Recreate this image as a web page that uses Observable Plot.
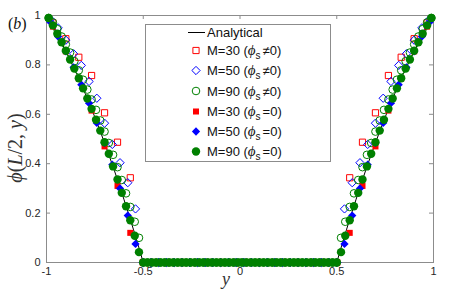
<!DOCTYPE html>
<html><head><meta charset="utf-8">
<script src="https://cdn.jsdelivr.net/npm/d3@7"></script>
<script src="https://cdn.jsdelivr.net/npm/@observablehq/plot@0.6"></script>
<style>body{margin:0;background:#fff} svg{display:block}</style>
</head><body><div id="chart"></div><script>
// ---------- data ----------
const xTicks = [-1, -0.5, 0, 0.5, 1];
const yTicks = [0, 0.2, 0.4, 0.6, 0.8, 1];

// Analytical curve
const yA = [-1,-0.975,-0.95,-0.925,-0.9,-0.875,-0.85,-0.825,-0.8,-0.775,-0.75,-0.725,-0.7,-0.675,-0.65,-0.625,-0.6,-0.575,-0.55,-0.525,-0.5,
            0.5,0.525,0.55,0.575,0.6,0.625,0.65,0.675,0.7,0.725,0.75,0.775,0.8,0.825,0.85,0.875,0.9,0.925,0.95,0.975,1];
const phiA = [1,0.967,0.931,0.895,0.856,0.816,0.774,0.73,0.684,0.637,0.588,0.537,0.484,0.43,0.374,0.316,0.256,0.195,0.132,0.067,0,
              0,0.067,0.132,0.195,0.256,0.316,0.374,0.43,0.484,0.537,0.588,0.637,0.684,0.73,0.774,0.816,0.856,0.895,0.931,0.967,1];

// M = 30
const yM30 = [-0.967,-0.9,-0.833,-0.767,-0.7,-0.633,-0.567,-0.5,-0.433,-0.367,-0.3,-0.233,-0.167,-0.1,-0.033,
              0.033,0.1,0.167,0.233,0.3,0.367,0.433,0.5,0.567,0.633,0.7,0.767,0.833,0.9,0.967];
const phiM30open = [0.97,0.906,0.831,0.757,0.606,0.487,0.343,0,0,0,0,0,0,0,0,
                    0,0,0,0,0,0,0,0,0.343,0.487,0.606,0.757,0.831,0.906,0.97];
const phiM30fill = [0.955,0.855,0.745,0.615,0.47,0.31,0.12,0,0,0,0,0,0,0,0,
                    0,0,0,0,0,0,0,0,0.12,0.31,0.47,0.615,0.745,0.855,0.955];

// M = 50
const yM50 = [-0.98,-0.94,-0.9,-0.86,-0.82,-0.78,-0.74,-0.7,-0.66,-0.62,-0.58,-0.54,
              -0.5,-0.46,-0.42,-0.38,-0.34,-0.3,-0.26,-0.22,-0.18,-0.14,-0.1,-0.06,-0.02,
              0.02,0.06,0.1,0.14,0.18,0.22,0.26,0.3,0.34,0.38,0.42,0.46,0.5,
              0.54,0.58,0.62,0.66,0.7,0.74,0.78,0.82,0.86,0.9,0.94,0.98];
const phiM50open = [0.985,0.95,0.9,0.845,0.798,0.733,0.665,0.564,0.478,0.404,0.323,0.217,
                    0,0,0,0,0,0,0,0,0,0,0,0,0,
                    0,0,0,0,0,0,0,0,0,0,0,0,0,
                    0.217,0.323,0.404,0.478,0.564,0.665,0.733,0.798,0.845,0.9,0.95,0.985];
const phiM50fill = [0.973,0.915,0.855,0.79,0.72,0.645,0.565,0.484,0.396,0.3,0.19,0.075,
                    0,0,0,0,0,0,0,0,0,0,0,0,0,
                    0,0,0,0,0,0,0,0,0,0,0,0,0,
                    0.075,0.19,0.3,0.396,0.484,0.565,0.645,0.72,0.79,0.855,0.915,0.973];

// M = 90
const yM90 = [-0.989,-0.967,-0.944,-0.922,-0.9,-0.878,-0.856,-0.833,-0.811,-0.789,-0.767,-0.744,-0.722,-0.7,-0.678,-0.656,-0.633,-0.611,-0.589,-0.567,-0.544,-0.522,
              -0.5,-0.478,-0.456,-0.433,-0.411,-0.389,-0.367,-0.344,-0.322,-0.3,-0.278,-0.256,-0.233,-0.211,-0.189,-0.167,-0.144,-0.122,-0.1,-0.078,-0.056,-0.033,-0.011,
              0.011,0.033,0.056,0.078,0.1,0.122,0.144,0.167,0.189,0.211,0.233,0.256,0.278,0.3,0.322,0.344,0.367,0.389,0.411,0.433,0.456,0.478,0.5,
              0.522,0.544,0.567,0.589,0.611,0.633,0.656,0.678,0.7,0.722,0.744,0.767,0.789,0.811,0.833,0.856,0.878,0.9,0.922,0.944,0.967,0.989];
const phiM90open = [0.99,0.972,0.945,0.915,0.883,0.85,0.815,0.778,0.74,0.7,0.66,0.618,0.575,0.53,0.484,0.436,0.386,0.334,0.28,0.225,0.165,0.1,
                    0,0,0,0,0,0,0,0,0,0,0,0,0,0,0,0,0,0,0,0,0,0,0,
                    0,0,0,0,0,0,0,0,0,0,0,0,0,0,0,0,0,0,0,0,0,0,0,
                    0.1,0.165,0.225,0.28,0.334,0.386,0.436,0.484,0.53,0.575,0.618,0.66,0.7,0.74,0.778,0.815,0.85,0.883,0.915,0.945,0.972,0.99];
const phiM90fill = [0.99,0.96,0.926,0.892,0.857,0.822,0.785,0.746,0.705,0.664,0.622,0.578,0.534,0.487,0.44,0.389,0.336,0.282,0.228,0.171,0.108,0.042,
                    0,0,0,0,0,0,0,0,0,0,0,0,0,0,0,0,0,0,0,0,0,0,0,
                    0,0,0,0,0,0,0,0,0,0,0,0,0,0,0,0,0,0,0,0,0,0,0,
                    0.042,0.108,0.171,0.228,0.282,0.336,0.389,0.44,0.487,0.534,0.578,0.622,0.664,0.705,0.746,0.785,0.822,0.857,0.892,0.926,0.96,0.99];

const legendLabels = ["Analytical", "M=30", "M=50", "M=90", "M=30", "M=50", "M=90"];
const legendConds = [null, "\u22600)", "\u22600)", "\u22600)", "=0)", "=0)", "=0)"];

// ---------- build ----------
const zip = (xs, ys) => xs.map((x, i) => ({x, y: ys[i]}));
const diamond = {draw(ctx, size) { const r = Math.sqrt(size / 2); ctx.moveTo(0, -r); ctx.lineTo(r, 0); ctx.lineTo(0, r); ctx.lineTo(-r, 0); ctx.closePath(); }};
const RED = "#ff0000", BLUE = "#0000ff", GREEN = "#008000", AX = "#8c8c8c";

const series = [
  {data: zip(yM30, phiM30open), symbol: "square", fill: "none", stroke: RED, r: 3.5},
  {data: zip(yM50, phiM50open), symbol: diamond, fill: "none", stroke: BLUE, r: 3.3},
  {data: zip(yM90, phiM90open), symbol: "circle", fill: "none", stroke: GREEN, r: 3.8},
  {data: zip(yM30, phiM30fill), symbol: "square", fill: RED, stroke: "none", r: 3.4},
  {data: zip(yM50, phiM50fill), symbol: diamond, fill: BLUE, stroke: "none", r: 3.3},
  {data: zip(yM90, phiM90fill), symbol: "circle", fill: GREEN, stroke: "none", r: 4.2}
];

const W = 457, H = 291, ML = 46, MR = 24, MT = 15, MB = 29;
const PW = W - ML - MR, PH = H - MT - MB, TL = 4;

const chart = Plot.plot({
  width: W, height: H,
  marginLeft: ML, marginRight: MR, marginTop: MT, marginBottom: MB,
  style: {fontFamily: "'Liberation Sans', Arial, sans-serif", fontSize: "11px", color: "#262626", background: "white", overflow: "visible"},
  x: {domain: [-1, 1], ticks: xTicks, tickSize: 0, tickPadding: 5, tickFormat: d => String(d), label: null},
  y: {domain: [0, 1], ticks: yTicks, tickSize: 0, tickPadding: 6, tickFormat: d => String(d), label: null},
  marks: [
    Plot.frame({stroke: AX}),
    Plot.tickX(xTicks, {x: d => d, insetTop: PH - TL, stroke: AX}),
    Plot.tickX(xTicks, {x: d => d, insetBottom: PH - TL, stroke: AX}),
    Plot.tickY(yTicks, {y: d => d, insetRight: PW - TL, stroke: AX}),
    Plot.tickY(yTicks, {y: d => d, insetLeft: PW - TL, stroke: AX}),
    Plot.line(zip(yA, phiA), {x: "x", y: "y", stroke: "black", strokeWidth: 1}),
    ...series.map(s => Plot.dot(s.data, {x: "x", y: "y", symbol: s.symbol, fill: s.fill, stroke: s.stroke, strokeWidth: 1, r: s.r}))
  ]
});
document.getElementById("chart").appendChild(chart);

// ---------- annotations & legend ----------
const svg = d3.select(chart);
const serif = "'Liberation Serif', 'DejaVu Serif', serif";

// (b)
const tb = svg.append("text").attr("x", 8).attr("y", 29).attr("text-anchor", "start")
  .attr("font-family", serif).attr("font-size", 16).attr("fill", "#111");
tb.append("tspan").text("(");
tb.append("tspan").attr("font-style", "italic").text("b");
tb.append("tspan").text(")");

// y label
const ty = svg.append("text").attr("transform", "translate(22,148) rotate(-90)").attr("text-anchor", "middle")
  .attr("font-family", serif).attr("font-size", 20).attr("fill", "#333");
ty.append("tspan").attr("font-style", "italic").text("\u03D5");
ty.append("tspan").text("(");
ty.append("tspan").attr("font-style", "italic").text("L");
ty.append("tspan").text("/2, ");
ty.append("tspan").attr("font-style", "italic").text("y");
ty.append("tspan").text(")");

// x label
svg.append("text").attr("x", 226).attr("y", 285).attr("text-anchor", "middle")
  .attr("font-family", serif).attr("font-size", 18).attr("font-style", "italic").attr("fill", "#333").text("y");

// legend
const lg = svg.append("g");
lg.append("rect").attr("x", 145.5).attr("y", 24.5).attr("width", 185).attr("height", 137)
  .attr("fill", "white").attr("stroke", AX);
const rowY = [32.5, 50.5, 70.5, 91, 111.5, 131.5, 151.5];
const symX = 196;
legendLabels.forEach((lab, i) => {
  const cy = rowY[i];
  if (i === 0) {
    lg.append("line").attr("x1", 188).attr("x2", 205).attr("y1", cy).attr("y2", cy).attr("stroke", "black");
  } else {
    const s = series[i - 1];
    const type = s.symbol === "square" ? d3.symbolSquare : s.symbol === "circle" ? d3.symbolCircle : s.symbol;
    lg.append("path").attr("transform", `translate(${symX},${cy})`)
      .attr("d", d3.symbol(type, Math.PI * s.r * s.r)())
      .attr("fill", s.fill).attr("stroke", s.stroke).attr("stroke-width", 1);
  }
  const t = lg.append("text").attr("x", 207).attr("y", cy + 4.5).attr("text-anchor", "start")
    .attr("font-family", "'Liberation Sans', Arial, sans-serif").attr("font-size", 13).attr("fill", "#111");
  if (legendConds[i] === null) { t.text(lab); return; }
  t.append("tspan").text(lab + " (");
  t.append("tspan").attr("font-style", "italic").attr("font-family", serif).attr("font-size", 15).text("\u03D5");
  t.append("tspan").attr("font-size", 10).attr("dy", 4).text("s");
  t.append("tspan").attr("dy", -4).attr("dx", 2).text(legendConds[i]);
});
</script></body></html>
